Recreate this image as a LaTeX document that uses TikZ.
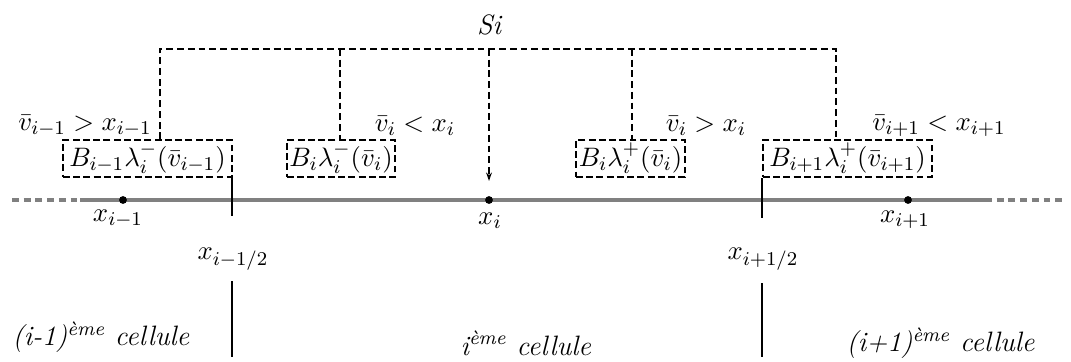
\documentclass[tikz,border=0pt]{standalone}
\usetikzlibrary{arrows.meta,positioning,calc}

\begin{document}
\begin{tikzpicture}[x=0.41pt,y=-0.41pt,
  every node/.style={font=\fontsize{10.8}{13}\selectfont},
  dashbox/.style={draw,dash pattern=on 2.8pt off 1.4pt,line width=0.6pt,
    inner sep=0pt,minimum height=15.2pt},
  tree/.style={dash pattern=on 2.8pt off 1.6pt,line width=0.6pt},
  axis/.style={draw=gray,line width=1.4pt},
  axisdash/.style={draw=gray,line width=1.4pt,dash pattern=on 2.8pt off 2pt},
  dot/.style={circle,fill,inner sep=0pt,minimum size=3.2pt},
  tick/.style={line width=0.8pt},
  cell/.style={font=\itshape\fontsize{11.5}{13}\selectfont}
]
  \useasboundingbox (0,0) rectangle (1071,361);

  % axis
  \coordinate (axl) at (12,200);
  \coordinate (axa) at (80,200);
  \coordinate (axb) at (985,200);
  \coordinate (axr) at (1066,200);
  \draw[axisdash] (axl) -- (axa);
  \draw[axis] (axa) -- (axb);
  \draw[axisdash] (axb) -- (axr);

  % points
  \node[dot] (xim) at (123,200) {};
  \node[dot] (xi) at (489,200) {};
  \node[dot] (xip) at (908,200) {};
  \node (lxim) at (118,219) {$x_{i-1}$};
  \node (lxi) at (490,221) {$x_i$};
  \node (lxip) at (905,220) {$x_{i+1}$};

  % interfaces
  \node (lhm) at (233,259) {$x_{i-1/2}$};
  \node (lhp) at (763,259) {$x_{i+1/2}$};
  \draw[tick] (232,178) -- (232,216);
  \draw[tick] (232,281) -- (232,357);
  \draw[tick] (762,178) -- (762,218);
  \draw[tick] (762,283) -- (762,357);

  % fluxes
  \node[dashbox,minimum width=69.3pt] (bm) at (147.5,158.5) {$B_{i-1}\lambda_i^-(\bar v_{i-1})$};
  \node[dashbox,minimum width=44.3pt] (bi1) at (341,158.5) {$B_i\lambda_i^-(\bar v_i)$};
  \node[dashbox,minimum width=44.7pt] (bi2) at (630.5,158.5) {$B_i\lambda_i^+(\bar v_i)$};
  \node[dashbox,minimum width=69.3pt] (bp) at (847.5,158.5) {$B_{i+1}\lambda_i^+(\bar v_{i+1})$};

  \node (cm) at (85,126) {$\bar v_{i-1}>x_{i-1}$};
  \node (ci1) at (415,126) {$\bar v_i<x_i$};
  \node (ci2) at (706,126) {$\bar v_i>x_i$};
  \node (cp) at (939,126) {$\bar v_{i+1}<x_{i+1}$};

  % source term
  \node[cell] (si) at (489,25) {Si};
  \coordinate (t1) at (160,49);
  \coordinate (t2) at (340,49);
  \coordinate (t3) at (489,49);
  \coordinate (t4) at (632,49);
  \coordinate (t5) at (836,49);
  \draw[tree] (bm.north -| t1) -- (t1) -- (t5) -- (bp.north -| t5);
  \draw[tree] (t2) -- (bi1.north -| t2);
  \draw[tree] (t4) -- (bi2.north -| t4);
  \draw[tree,-{Stealth[length=3.5pt,width=2.4pt]},shorten >=6pt] (t3) -- (xi);

  % cells
  \node[cell,anchor=west] (cellm) at (4,337) {(i-1)\textsuperscript{ème} cellule};
  \node[cell,anchor=west] (celli) at (452,343) {i\textsuperscript{ème} cellule};
  \node[cell,anchor=west] (cellp) at (838,343) {(i+1)\textsuperscript{ème} cellule};
\end{tikzpicture}
\end{document}
